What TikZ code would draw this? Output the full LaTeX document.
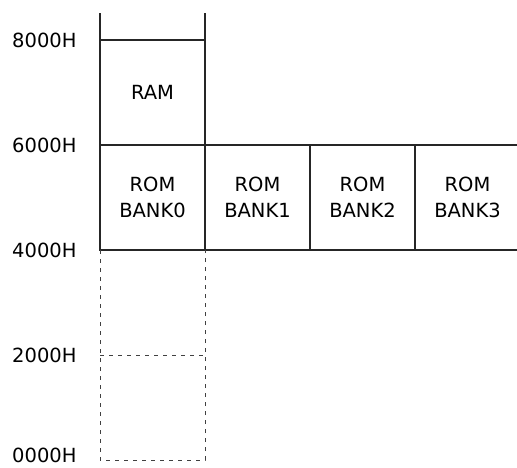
\documentclass[tikz,border=0pt]{standalone}
\usepackage{fontspec}
\setmainfont{DejaVu Sans}
\usepackage{tikz}
\usetikzlibrary{positioning}
\tikzset{
  memline/.style={line width=1.3pt, black!85},
  freeline/.style={line width=1pt, black!75, dash pattern=on 4pt off 5pt},
  addr/.style={anchor=west, inner sep=0pt},
  cell/.style={align=center, inner sep=0pt}
}

\begin{document}
\begin{tikzpicture}[x=1pt, y=-1pt, font=\fontsize{19.5}{26}\selectfont]
  \useasboundingbox (0,0) rectangle (517,467);
  % address labels
  \foreach \a/\y in {8000/40, 6000/145, 4000/250, 2000/355}
    \node[addr] (addr\a) at (12,\y) {\a H};
  \node[addr, anchor=base west] (addr0000) at (12,462) {0000H};
  % corners of the map
  \coordinate (top0) at (100,13);
  \coordinate (top1) at (205,13);
  \coordinate (ramL) at (100,40);
  \coordinate (ramR) at (205,40);
  \coordinate (romL) at (100,145);
  \coordinate (romR) at (517,145);
  \coordinate (botL) at (100,250);
  \coordinate (botR) at (517,250);
  % solid part
  \draw[memline] (top0) -- (botL) -- (botR);
  \draw[memline] (top1) -- (top1 |- botL);
  \draw[memline] (ramL) -- (ramR);
  \draw[memline] (romL) -- (romR);
  \foreach \x in {310, 415}
    \draw[memline] (\x,145) -- (\x,250);
  % empty area below 4000H
  \draw[freeline] (botL) -- (100,460) -- (205,460) -- (205,250);
  \draw[freeline] (100,355) -- (205,355);
  % contents
  \node[cell] (ram) at (152.5,92.5) {RAM};
  \foreach \i/\x in {0/152.5, 1/257.5, 2/362.5, 3/467.5}
    \node[cell] (bank\i) at (\x,197.5) {ROM\\BANK\i};
\end{tikzpicture}
\end{document}
